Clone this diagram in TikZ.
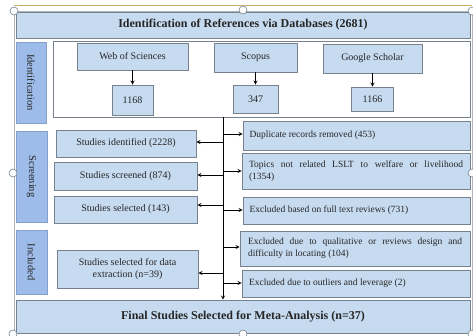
\documentclass[tikz,border=0pt]{standalone}
\usepackage{fontspec}
\setmainfont{Liberation Serif}
\definecolor{boxcol}{RGB}{198,218,240}
\definecolor{tabcol}{RGB}{158,188,234}
\definecolor{linecol}{RGB}{120,130,142}
\definecolor{txtcol}{RGB}{38,38,38}
\definecolor{framecol}{RGB}{196,178,110}
\tikzset{every picture/.style={x=1pt,y=-1pt}}
\tikzset{box/.style={rectangle,draw=linecol,fill=boxcol,line width=.8pt,inner sep=0pt,text=txtcol,font=\fontsize{10}{12}\selectfont}}
\tikzset{banner/.style={box,font=\fontsize{12}{14}\selectfont\bfseries}}
\tikzset{tab/.style={box,fill=tabcol,draw=tabcol!85!black,rotate=-90,font=\fontsize{10.5}{12}\selectfont}}
\tikzset{wide/.style={text width=214,align=justify,font=\fontsize{9.5}{12}\selectfont}}
\tikzset{edge/.style={-stealth,line width=.8pt}}
\tikzset{handle/.style={draw=linecol,fill=white,line width=.6pt}}

\begin{document}
\begin{tikzpicture}
\useasboundingbox (0,0) rectangle (473,336);
\draw [linecol!60,line width=.5pt] (14,11) rectangle (472,333);
\draw [framecol,line width=1pt] (14,6) -- (472,6);

\node [banner,minimum width=454,minimum height=26] (head) at (243,25) {Identification of References via Databases (2681)};
\node [box,fill=white,minimum width=417,minimum height=76] (panel) at (261.5,79) {};

\node [tab,minimum width=81,minimum height=30] (idtab) at (31,82.5) {Identification};
\node [tab,minimum width=91,minimum height=31] (screentab) at (31.5,176.5) {Screening};
\node [tab,minimum width=64,minimum height=31] (inctab) at (31.5,262) {Included};

\node [box,minimum width=111,minimum height=27] (wos) at (132.5,56.5) {Web of Sciences};
\node [box,minimum width=83,minimum height=29] (scopus) at (255.5,57.5) {Scopus};
\node [box,minimum width=99,minimum height=29] (scholar) at (372.5,58.5) {Google Scholar};

\node [box,minimum width=41,minimum height=30] (n1168) at (132.5,100) {1168};
\node [box,minimum width=45,minimum height=28] (n347) at (255.5,99) {347};
\node [box,minimum width=42,minimum height=24] (n1166) at (372.5,99) {1166};

\draw [edge] (wos) -- (n1168);
\draw [edge] (scopus) -- (n347);
\draw [edge] (scholar) -- (n1166);

\node [box,minimum width=140,minimum height=27] (ident) at (126,143.5) {Studies identified (2228)};
\node [box,minimum width=143,minimum height=28] (screened) at (125.5,176) {Studies screened (874)};
\node [box,minimum width=143,minimum height=27] (selected) at (125.5,209.5) {Studies selected (143)};
\node [box,minimum width=141,minimum height=38,align=center] (extract) at (127.5,269) {Studies selected for data\\extraction (n=39)};

\node [box,wide,minimum width=227,minimum height=29] (dup) at (356.5,135.5) {Duplicate records removed (453)};
\node [box,wide,minimum width=228,minimum height=36] (topics) at (356,171) {Topics not related LSLT to welfare or livelihood\linebreak (1354)};
\node [box,wide,minimum width=227,minimum height=27] (fulltext) at (356.5,210.5) {Excluded based on full text reviews (731)};
\node [box,wide,minimum width=230,minimum height=35] (qual) at (355,248.5) {Excluded due to qualitative or reviews design and\linebreak difficulty in locating (104)};
\node [box,wide,minimum width=228,minimum height=27] (outl) at (356,283.5) {Excluded due to outliers and leverage (2)};

\node [banner,minimum width=454,minimum height=33] (final) at (243,316.5) {Final Studies Selected for Meta-Analysis (n=37)};

\coordinate (spine) at (223,117);
\draw [edge] (spine) -- (spine |- final.north);

\coordinate (l1) at (223,142);
\coordinate (l2) at (223,175);
\coordinate (l3) at (223,205);
\coordinate (l4) at (223,273);
\draw [edge] (l1) -- (l1 -| ident.east);
\draw [edge] (l2) -- (l2 -| screened.east);
\draw [edge] (l3) -- (l3 -| selected.east);
\draw [edge] (l4) -- (l4 -| extract.east);

\coordinate (r1) at (223,134);
\coordinate (r2) at (223,171);
\coordinate (r3) at (223,210);
\coordinate (r4) at (223,247);
\coordinate (r5) at (223,283);
\draw [edge] (r1) -- (r1 -| dup.west);
\draw [edge] (r2) -- (r2 -| topics.west);
\draw [edge] (r3) -- (r3 -| fulltext.west);
\draw [edge] (r4) -- (r4 -| qual.west);
\draw [edge] (r5) -- (r5 -| outl.west);

\foreach \hx/\hy in {14/11,243/10,472/11,13/173,472/173,13/334,243/334,472/334}
  \draw [handle] (\hx,\hy) circle [radius=4pt];
\end{tikzpicture}
\end{document}
